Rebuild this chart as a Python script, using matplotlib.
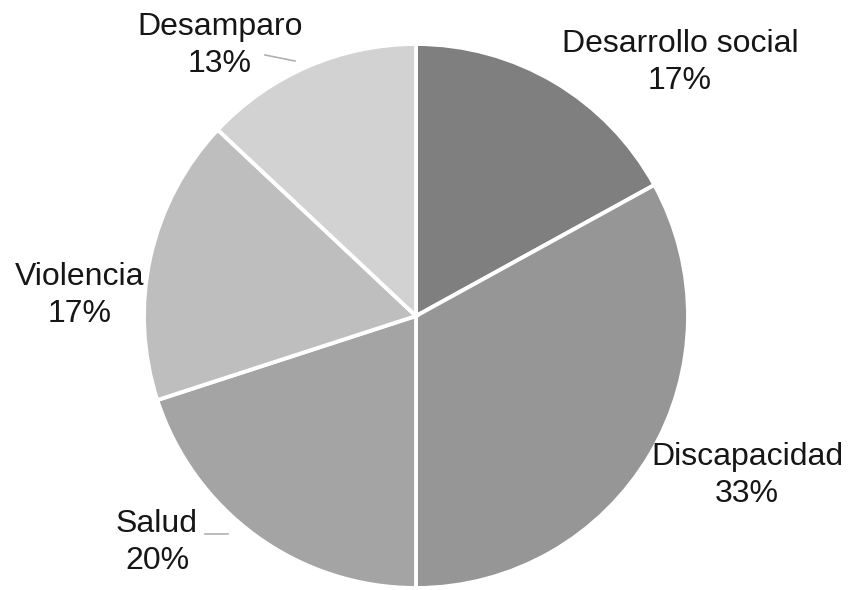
import matplotlib
matplotlib.use("Agg")
import matplotlib.pyplot as plt

# Distribution of cases by area
categories = ["Desarrollo social", "Discapacidad", "Salud", "Violencia", "Desamparo"]
percentages = [17, 33, 20, 17, 13]
colors = ["#7f7f7f", "#969696", "#a4a4a4", "#bebebe", "#d2d2d2"]

W, H = 851, 590
fig = plt.figure(figsize=(W / 100, H / 100), dpi=100)
ax = fig.add_axes([0, 0, 1, 1])
ax.set_xlim(0, W)
ax.set_ylim(0, H)
ax.set_aspect("equal")
ax.axis("off")


def py(y):
    """Convert a top-down pixel row to axis y."""
    return H - y


center = (416, py(316))
radius = 272

ax.pie(
    percentages,
    colors=colors,
    startangle=90,
    counterclock=False,
    center=center,
    radius=radius,
    wedgeprops=dict(edgecolor="white", linewidth=2.8),
    frame=True,
)
ax.set_xlim(0, W)
ax.set_ylim(0, H)
ax.axis("off")

# label anchor points (x centre, y of first line centre), top-down pixels
label_pos = {
    "Desarrollo social": (680, 44),
    "Discapacidad": (747, 457),
    "Salud": (157, 524),
    "Violencia": (80, 277),
    "Desamparo": (220, 27),
}

for name, pct in zip(categories, percentages):
    x, y = label_pos[name]
    ax.text(x, py(y), name, ha="center", va="center", fontsize=23,
            family="Liberation Sans", color="#161616")
    ax.text(x, py(y + 37), f"{pct}%", ha="center", va="center", fontsize=23,
            family="Liberation Sans", color="#161616")

# short leader lines
ax.plot([265, 295], [py(55), py(61)], color="#b0b0b0", lw=1.2)
ax.plot([205, 228], [py(534), py(534)], color="#b0b0b0", lw=1.2)

fig.savefig("out.png", dpi=100, facecolor="white")
